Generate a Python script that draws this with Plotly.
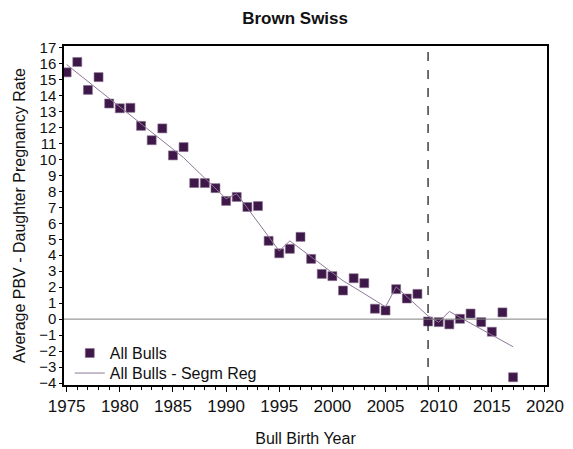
import plotly.graph_objects as go

years = list(range(1975, 2018))
pbv = [15.45, 16.1, 14.35, 15.15, 13.5, 13.2, 13.23, 12.1, 11.2, 11.94,
       10.25, 10.77, 8.52, 8.52, 8.2, 7.4, 7.65, 7.02, 7.08, 4.9,
       4.12, 4.4, 5.15, 3.77, 2.83, 2.69, 1.79, 2.56, 2.25, 0.65,
       0.54, 1.875, 1.29, 1.58, -0.15, -0.19, -0.33, 0.02, 0.35, -0.19,
       -0.79, 0.42, -3.64]
segm = [15.94, 15.41, 14.88, 14.35, 13.82, 13.29, 12.76, 12.23, 11.70, 11.17,
        10.64, 10.11, 9.46, 8.82, 8.18, 7.54, 7.85, 6.96, 6.06, 5.17,
        4.27, 4.90, 4.39, 3.88, 3.37, 2.86, 2.40, 2.00, 1.60, 1.20,
        0.77, 2.02, 1.40, 0.80, 0.20, -0.20, 0.48, 0.11, -0.26, -0.63,
        -1.00, -1.36, -1.73]
ref_year = 2009

y_ticks = list(range(-4, 18))
x_ticks = list(range(1975, 2021, 5))

font = "Liberation Sans, Arial, sans-serif"
fig = go.Figure()
fig.add_trace(go.Scatter(
    x=years, y=pbv, mode="markers", name="All Bulls", legend="legend",
    marker=dict(symbol="square", size=9, color="#3e1848",
                line=dict(width=0.6, color="#8a7090")),
))
fig.add_trace(go.Scatter(
    x=years, y=segm, mode="lines", name="All Bulls - Segm Reg", legend="legend2",
    line=dict(color="#8e7898", width=1),
))
fig.add_shape(type="line", x0=ref_year, x1=ref_year, y0=0, y1=1, yref="paper",
              line=dict(color="#222222", width=1.3, dash="dash"))
fig.add_shape(type="line", x0=0, x1=1, xref="paper", y0=0, y1=0,
              line=dict(color="#808080", width=1))

leg_common = dict(xanchor="left", yanchor="middle", bgcolor="rgba(0,0,0,0)",
                  font=dict(size=16, color="#111111"), itemwidth=30)

fig.update_layout(
    width=573, height=449,
    margin=dict(l=64, r=26, t=46, b=64),
    paper_bgcolor="white", plot_bgcolor="white",
    font=dict(family=font, color="#111111"),
    title=dict(text="<b>Brown Swiss</b>", x=0.515, xanchor="center", y=0.96,
               yanchor="middle", font=dict(size=17, color="#111111")),
    showlegend=True,
    legend=dict(x=0.012, y=0.094, **leg_common),
    legend2=dict(x=0.012, y=0.035, **leg_common),
    xaxis=dict(range=[1974.75, 2020.19], tickvals=x_ticks, automargin=False,
               ticks="outside", ticklen=5, tickcolor="black",
               showline=True, linecolor="black", linewidth=1.5, mirror=True,
               showgrid=False, zeroline=False,
               tickfont=dict(size=17),
               minor=dict(dtick=1, tick0=1975, ticks="outside", ticklen=3, tickcolor="black"),
               title=dict(text="Bull Birth Year", font=dict(size=16), standoff=18)),
    yaxis=dict(range=[-4.125, 17.1], tickvals=y_ticks, automargin=False,
               ticks="outside", ticklen=3, tickcolor="black",
               showline=True, linecolor="black", linewidth=1.5, mirror=True,
               showgrid=False, zeroline=False,
               tickfont=dict(size=15),
               title=dict(text="Average PBV - Daughter Pregnancy Rate",
                          font=dict(size=16), standoff=10)),
)
fig.write_html("out.html", config={"displayModeBar": False},
               post_script="document.body.style.margin='0';document.body.style.padding='0';")
